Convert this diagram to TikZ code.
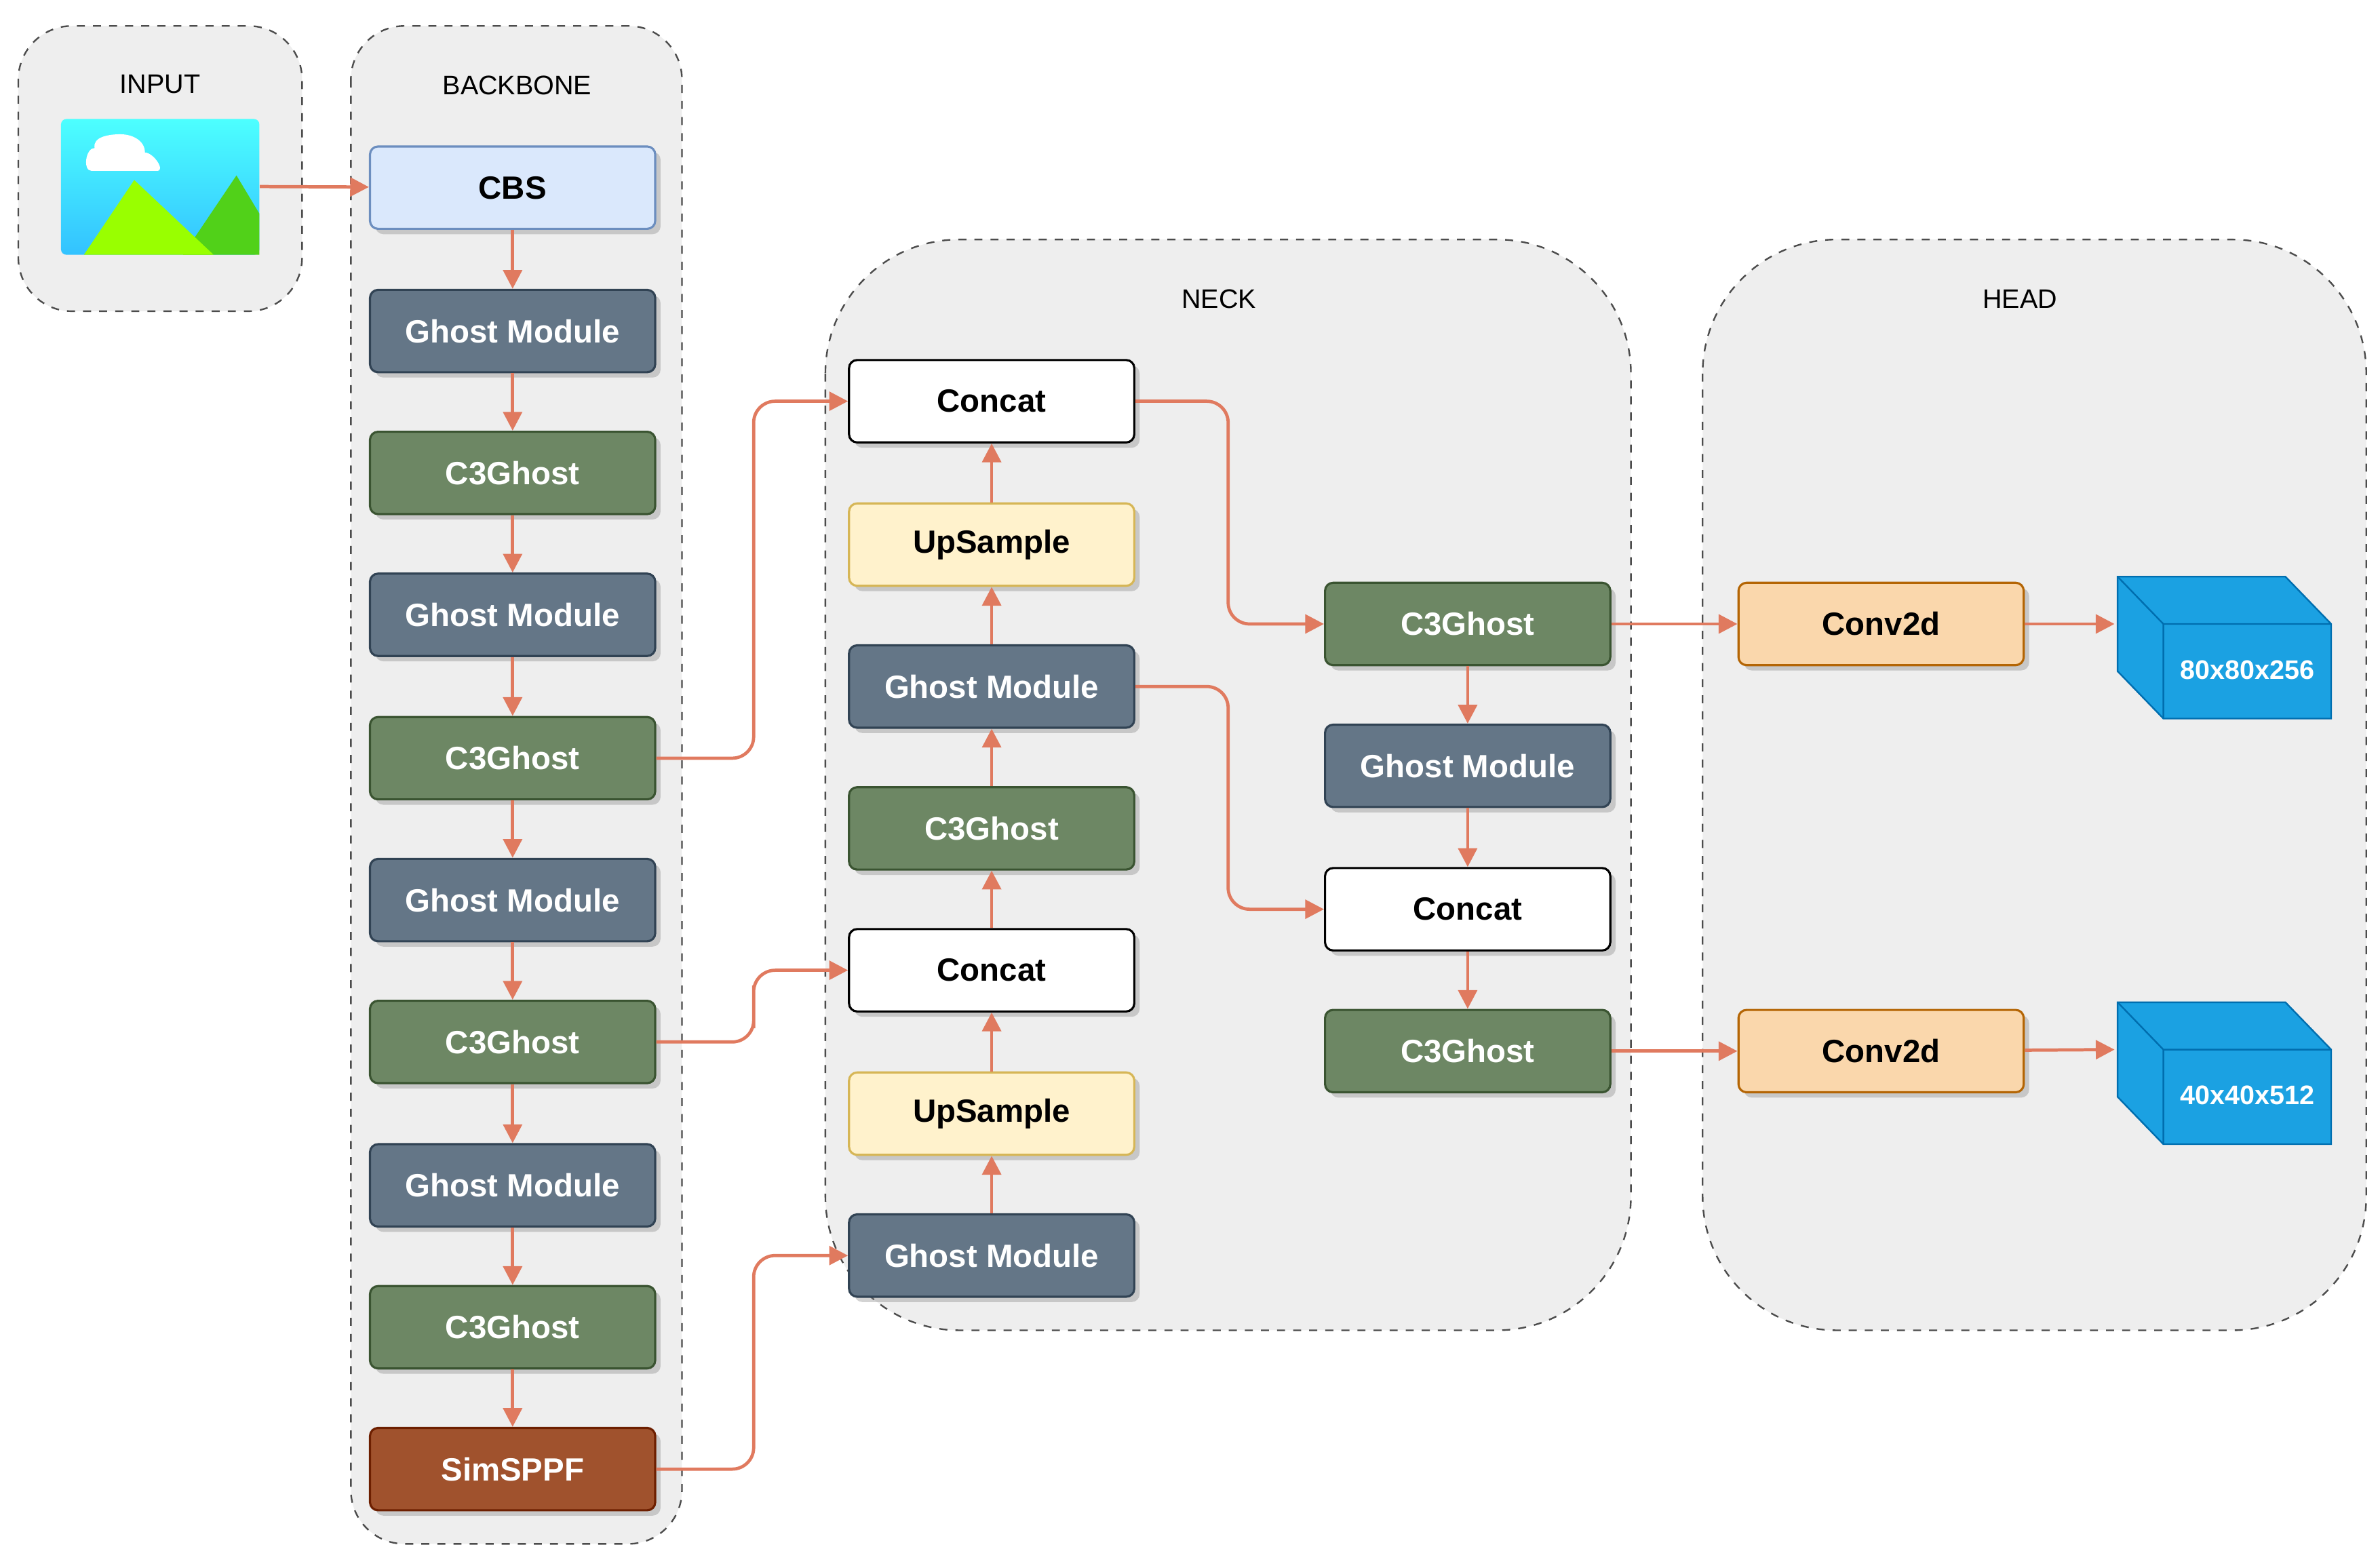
\documentclass[tikz,border=0pt]{standalone}
\usepackage{fontspec}
\setmainfont{Liberation Sans}
\usepackage{tikz}
\usetikzlibrary{arrows.meta,calc,positioning,shadows}
\definecolor{arrowc}{RGB}{224,122,95}
\definecolor{panelc}{RGB}{238,238,238}
\definecolor{ghostf}{HTML}{647687}\definecolor{ghostd}{HTML}{314354}
\definecolor{c3f}{HTML}{6D8764}\definecolor{c3d}{HTML}{3A5431}
\definecolor{cbsf}{HTML}{DAE8FC}\definecolor{cbsd}{HTML}{6C8EBF}
\definecolor{upf}{HTML}{FFF2CC}\definecolor{upd}{HTML}{D6B656}
\definecolor{convf}{HTML}{FAD7AC}\definecolor{convd}{HTML}{B46504}
\definecolor{sppff}{HTML}{A0522D}\definecolor{sppfd}{HTML}{6D1F00}
\definecolor{cubef}{HTML}{1BA1E2}\definecolor{cubed}{HTML}{006EAF}
\tikzset{
  block/.style = {draw, line width=0.8pt, rounded corners=3pt, minimum width=3.74cm,
  minimum height=1.08cm, font=\fontsize{12}{14}\selectfont\bfseries,
  drop shadow={shadow xshift=2pt, shadow yshift=-2pt, opacity=0.35}},
  ghost/.style = {block, fill=ghostf, draw=ghostd, text=white},
  c3/.style = {block, fill=c3f, draw=c3d, text=white},
  cbs/.style = {block, fill=cbsf, draw=cbsd},
  up/.style = {block, fill=upf, draw=upd},
  cat/.style = {block, fill=white, draw=black},
  conv/.style = {block, fill=convf, draw=convd},
  sppf/.style = {block, fill=sppff, draw=sppfd, text=white},
  panel/.style = {draw=black!70, dashed, fill=panelc, line width=0.6pt},
  ptitle/.style = {font=\fontsize{10}{12}\selectfont},
  link/.style = {draw=arrowc, line width=1.2pt, -{Triangle[length=7pt,width=7pt]}, rounded corners=8pt}
}
\begin{document}
\begin{tikzpicture}[x=0.02cm,y=-0.02cm]
\useasboundingbox (0,0) rectangle (1560,1026.5);
% panels
\draw[panel, rounded corners=20] (12,17) rectangle (198,204);
\draw[panel, rounded corners=20] (230,17) rectangle (447,1012);
\draw[panel, rounded corners=50] (541,157) rectangle (1069,872);
\draw[panel, rounded corners=50] (1116,157) rectangle (1551,872);
\node[ptitle] (tin) at (105,55) {INPUT};
\node[ptitle] (tbb) at (339,56) {BACKBONE};
\node[ptitle] (tnk) at (799,196) {NECK};
\node[ptitle] (thd) at (1324,196) {HEAD};
% input picture
\shade[top color=cyan!70!white, bottom color=cyan!70!blue!80, rounded corners=2pt] (40,78) rectangle (170,167);
\fill[green!60!lime!80!black!90] (120,167) -- (155,115) -- (170,140) -- (170,167) -- cycle;
\fill[lime!80!green] (55,167) -- (88,118) -- (140,167) -- cycle;
\fill[white] (60,112) to[out=180,in=180] (62,97) to[out=100,in=180] (79,88) to[out=0,in=90] (95,100) to[out=0,in=0] (103,112) -- cycle;
\node[inner sep=0, minimum width=2.6cm, minimum height=1.78cm] (img) at (105,122) {};
% backbone
\node[cbs] (bb0) at (336,123) {CBS};
\foreach \i/\y/\s/\t in {1/217/ghost/Ghost Module, 2/310/c3/C3Ghost, 3/403/ghost/Ghost Module,
  4/497/c3/C3Ghost, 5/590/ghost/Ghost Module, 6/683/c3/C3Ghost, 7/777/ghost/Ghost Module,
  8/870/c3/C3Ghost, 9/963/sppf/SimSPPF}
  \node[\s] (bb\i) at (336,\y) {\t};
\foreach \i [evaluate=\i as \j using int(\i+1)] in {0,...,8}
  \draw[link] (bb\i) -- (bb\j);
\draw[link] (img) -- (bb0);
% neck
\node[cat] (nk1) at (650,263) {Concat};
\node[up] (nk2) at (650,357) {UpSample};
\node[ghost] (nk3) at (650,450) {Ghost Module};
\node[c3] (nk4) at (650,543) {C3Ghost};
\node[cat] (nk5) at (650,636) {Concat};
\node[up] (nk6) at (650,730) {UpSample};
\node[ghost] (nk7) at (650,823) {Ghost Module};
\node[c3] (nr1) at (962,409) {C3Ghost};
\node[ghost] (nr2) at (962,502) {Ghost Module};
\node[cat] (nr3) at (962,596) {Concat};
\node[c3] (nr4) at (962,689) {C3Ghost};
\foreach \a/\b in {nk7/nk6, nk6/nk5, nk5/nk4, nk4/nk3, nk3/nk2, nk2/nk1, nr1/nr2, nr2/nr3, nr3/nr4}
  \draw[link] (\a) -- (\b);
\draw[link] (bb4.east) -| (494,380) |- (nk1.west);
\draw[link] (bb6.east) -| (494,660) |- (nk5.west);
\draw[link] (bb9.east) -| (494,890) |- (nk7.west);
\draw[link] (nk1.east) -| (805,340) |- (nr1.west);
\draw[link] (nk3.east) -| (805,520) |- (nr3.west);
% head
\node[conv] (hd1) at (1233,409) {Conv2d};
\node[conv] (hd2) at (1233,689) {Conv2d};
\foreach \n/\y/\t in {A/378/80x80x256, B/657/40x40x512} {
  \filldraw[fill=cubef, draw=cubed, line width=0.6pt] (1388,\y) -- (1498,\y) -- (1528,\y+31) -- (1528,\y+93)
    -- (1418,\y+93) -- (1388,\y+62) -- cycle;
  \draw[draw=cubed, line width=0.6pt] (1388,\y) -- (1418,\y+31) -- (1528,\y+31) (1418,\y+31) -- (1418,\y+93);
  \node[text=white, font=\fontsize{10}{12}\selectfont\bfseries] (cube\n) at (1473,\y+61) {\t};
  \coordinate (cube\n in) at (1386,\y+31);
}
\draw[link] (nr1) -- (hd1);
\draw[link] (nr4) -- (hd2);
\draw[link] (hd1) -- (cubeAin);
\draw[link] (hd2) -- (cubeBin);
\end{tikzpicture}
\end{document}
